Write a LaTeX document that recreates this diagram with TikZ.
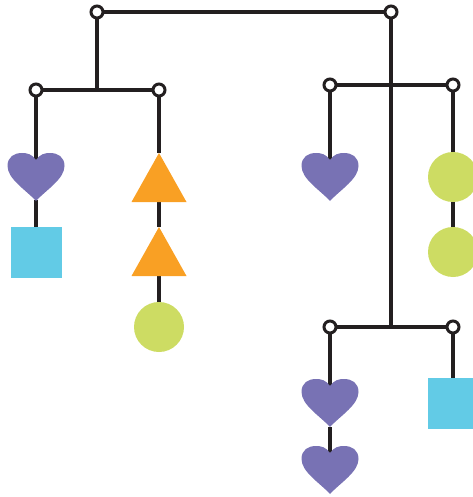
\documentclass[tikz,border=0pt]{standalone}
\usetikzlibrary{calc}
\definecolor{linec}{HTML}{231F20}
\definecolor{purp}{HTML}{7872B4}
\definecolor{orng}{HTML}{F9A024}
\definecolor{grn}{HTML}{CDDC63}
\definecolor{blu}{HTML}{62CBE6}
\tikzset{
  wire/.style={draw=linec,line width=3.2pt},
  ring/.style={draw=linec,fill=white,line width=3pt},
  heartshape/.pic={\fill[purp] (0,7) .. controls (-4,1) and (-9,0) .. (-14,0) .. controls (-22,0) and (-28.5,4) .. (-28.5,13) .. controls (-28.5,26) and (-10,37) .. (0,48) .. controls (10,37) and (28.5,26) .. (28.5,13) .. controls (28.5,4) and (22,0) .. (14,0) .. controls (9,0) and (4,1) .. (0,7) -- cycle;},
  tri/.pic={\fill[orng] (0,0) -- (27.5,49) -- (-27.5,49) -- cycle;},
  ball/.pic={\fill[grn] (0,25) circle[radius=25];},
  sq/.pic={\fill[blu] (-25.5,0) rectangle (25.5,50.5);}
}
\begin{document}
\begin{tikzpicture}[x=1pt,y=-1pt]
\useasboundingbox (0,0) rectangle (472,497);
% pivots
\coordinate (t1) at (97,12);
\coordinate (t2) at (391,12);
\coordinate (l1) at (36,90);
\coordinate (l2) at (159,90);
\coordinate (lm) at (97,90);
\coordinate (u1) at (330,85);
\coordinate (u2) at (453,85);
\coordinate (b1) at (330,327);
\coordinate (b2) at (453,327);
\coordinate (bm) at (391,327);
% shape attachment points
\coordinate (h1) at (36,153);
\coordinate (h1n) at (36,160);
\coordinate (h1b) at (36,200);
\coordinate (s1) at (36,227);
\coordinate (tr1) at (159,153);
\coordinate (tr1b) at (159,202);
\coordinate (tr2) at (159,227);
\coordinate (tr2b) at (159,276);
\coordinate (c1) at (159,302);
\coordinate (h2) at (330,153);
\coordinate (h2n) at (330,160);
\coordinate (c2) at (453,152);
\coordinate (c2b) at (453,202);
\coordinate (c3) at (453,227);
\coordinate (h3) at (330,379);
\coordinate (h3n) at (330,386);
\coordinate (h3b) at (330,427);
\coordinate (h4) at (330,446);
\coordinate (h4n) at (330,453);
\coordinate (s2) at (453,378);
% bars and strings
\draw[wire] (t1) -- (t2);
\draw[wire] (t1) -- (lm);
\draw[wire] (t2) -- (bm);
\draw[wire] (l1) -- (l2);
\draw[wire] (u1) -- (u2);
\draw[wire] (b1) -- (b2);
\draw[wire] (l1) -- (h1n);
\draw[wire] (h1b) -- (s1);
\draw[wire] (l2) -- (tr1);
\draw[wire] (tr1b) -- (tr2);
\draw[wire] (tr2b) -- (c1);
\draw[wire] (u1) -- (h2n);
\draw[wire] (u2) -- (c2);
\draw[wire] (c2b) -- (c3);
\draw[wire] (b1) -- (h3n);
\draw[wire] (h3b) -- (h4n);
\draw[wire] (b2) -- (s2);
% shapes
\pic at (h1) {heartshape};
\pic at (s1) {sq};
\pic at (tr1) {tri};
\pic at (tr2) {tri};
\pic at (c1) {ball};
\pic at (h2) {heartshape};
\pic at (c2) {ball};
\pic at (c3) {ball};
\pic at (h3) {heartshape};
\pic at (h4) {heartshape};
\pic at (s2) {sq};
% rings
\foreach \p in {t1,t2,l1,l2,u1,u2,b1,b2}
  \draw[ring] (\p) circle[radius=6];
\end{tikzpicture}
\end{document}
